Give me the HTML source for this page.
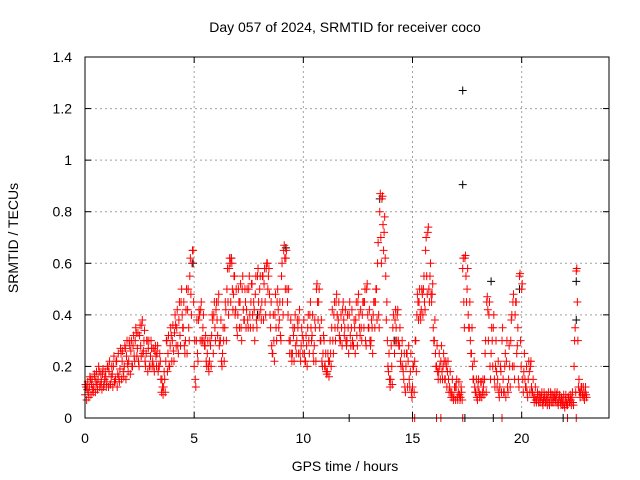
<!DOCTYPE html>
<html><head><meta charset="utf-8"><style>
body{margin:0;background:#fff}
svg{display:block;font-family:"Liberation Sans",sans-serif;font-size:14px}
</style></head><body>
<svg id="chart" width="640" height="480" viewBox="0 0 640 480">
<rect width="640" height="480" fill="#fff"/>
<text x="345" y="32" text-anchor="middle">Day 057 of 2024, SRMTID for receiver coco</text>
<text x="345" y="471" text-anchor="middle">GPS time / hours</text>
<text transform="translate(18,238) rotate(-90)" text-anchor="middle">SRMTID / TECUs</text>
<g id="grid"></g>
<g id="marks"></g>
<rect x="85" y="57" width="524" height="361" fill="none" stroke="#000" stroke-width="1"/>
<g id="ticks"></g>
</svg>
<script>
const xTicks=[0,5,10,15,20];
const yTicks=[0,0.2,0.4,0.6,0.8,1,1.2,1.4];
const yTickLabels=["0","0.2","0.4","0.6","0.8","1","1.2","1.4"];
const redA=[.09,.11,.12,.13,.12,.14,.15,.13,.17,.15,
.14,.18,.16,.2,.15,.17,.19,.22,.2,.24,
.22,.26,.28,.3,.27,.32,.36,.3,.25,.27,
.24,.22,.26,.25,.2,.1,.12,.22,.25,.28,
.3,.33,.35,.38,.45,.35,.3,.42,.55,.6,
.2,.3,.38,.42,.35,.28,.25,.22,.32,.4,
.42,.45,.3,.25,.35,.5,.58,.62,.48,.42,
.4,.45,.5,.38,.42,.5,.45,.35,.48,.55,
.5,.45,.52,.58,.55,.35,.25,.4,.45,.38,
.55,.65,.62,.4,.3,.25,.35,.3,.38,.28,
.3,.22,.35,.4,.32,.28,.5,.45,.3,.25,
.2,.18,.22,.35,.4,.45,.38,.3,.42,.35,
.3,.4,.35,.28,.38,.45,.32,.4,.45,.5,
.35,.3,.4,.45,.6,.8,.85,.72,.38,.18,
.15,.35,.38,.4,.28,.25,.15,.2,.22,.18,
.12,.22,.4,.45,.42,.5,.65,.72,.55,.48,
.3,.2,.18,.22,.2,.15,.18,.12,.1,.08,
.12,.1,.08,.58,.62,.5,.35,.25,.15,.1,
.12,.09,.1,.15,.45,.4,.25,.35,.2,.15,
.12,.3,.1,.22,.15,.3,.45,.4,.28,.55,
.5,.18,.12,.15,.2,.1,.08,.07,.06,.08,
.07,.06,.08,.07,.06,.08,.09,.07,.05,.06,
.07,.05,.06,.08,.2,.57,.12,.1,.09,.1];
const redB=[.12,.1,.15,.11,.16,.13,.18,.14,.12,.16,
.2,.13,.17,.14,.22,.16,.25,.18,.27,.21,
.28,.2,.24,.33,.22,.28,.25,.22,.3,.2,
.27,.2,.24,.18,.22,.12,.15,.3,.2,.32,
.26,.36,.28,.32,.4,.28,.5,.35,.48,.65,
.15,.25,.4,.3,.3,.22,.2,.28,.38,.35,
.38,.28,.22,.3,.42,.45,.6,.5,.55,.35,
.45,.35,.42,.45,.38,.4,.52,.42,.38,.45,
.42,.55,.45,.6,.48,.28,.3,.35,.42,.32,
.45,.62,.5,.3,.25,.32,.28,.35,.25,.32,
.25,.28,.3,.35,.25,.35,.45,.35,.22,.3,
.18,.22,.25,.3,.35,.4,.32,.35,.38,.3,
.35,.32,.3,.35,.32,.4,.35,.45,.3,.4,
.3,.35,.45,.5,.4,.7,.75,.62,.3,.15,
.2,.3,.35,.3,.22,.2,.12,.25,.15,.1,
.2,.3,.45,.4,.48,.45,.55,.5,.48,.35,
.25,.18,.2,.18,.22,.2,.15,.1,.08,.12,
.08,.09,.1,.45,.55,.4,.3,.2,.12,.08,
.1,.14,.12,.3,.42,.2,.3,.15,.18,.1,
.18,.15,.25,.12,.2,.4,.2,.45,.15,.3,
.15,.15,.1,.18,.12,.08,.07,.09,.08,.06,
.08,.07,.06,.09,.08,.07,.06,.08,.07,.05,
.06,.08,.07,.06,.35,.45,.1,.12,.08,.09];
const redC=[.13,.14,.16,.15,.17,.18,.2,.17,.19,.18,
.2,.22,.2,.24,.22,.25,.27,.26,.28,.3,
.3,.3,.32,.35,.33,.36,.38,.34,.3,.3,
.3,.27,.28,.28,.25,.15,.18,.3,.32,.35,
.36,.4,.42,.45,.5,.45,.42,.5,.62,.65,
.3,.38,.42,.45,.4,.32,.3,.3,.4,.45,
.45,.48,.38,.35,.45,.58,.62,.6,.55,.5,
.5,.52,.55,.5,.5,.55,.52,.45,.55,.58,
.55,.55,.58,.6,.58,.45,.4,.48,.5,.45,
.6,.67,.65,.5,.38,.35,.4,.38,.42,.35,
.38,.32,.4,.45,.4,.38,.52,.5,.38,.32,
.25,.25,.3,.42,.45,.48,.45,.4,.45,.42,
.4,.45,.42,.38,.45,.48,.42,.45,.5,.52,
.42,.38,.45,.5,.68,.87,.86,.78,.45,.25,
.28,.4,.42,.42,.35,.3,.25,.25,.28,.25,
.2,.3,.48,.5,.5,.55,.7,.74,.6,.52,
.38,.28,.25,.28,.25,.22,.22,.18,.15,.12,
.15,.14,.12,.62,.63,.58,.45,.35,.22,.15,
.15,.14,.15,.25,.47,.45,.35,.4,.3,.22,
.2,.35,.2,.3,.28,.38,.48,.45,.35,.56,
.52,.25,.2,.22,.22,.15,.12,.1,.09,.1,
.1,.09,.1,.1,.09,.1,.1,.09,.08,.09,
.09,.08,.09,.1,.3,.58,.15,.12,.12,.12];
const redD=[.07,.08,.09,.1,.1,.11,.12,.11,.13,.12,
.12,.13,.12,.14,.12,.14,.15,.16,.15,.18,
.17,.2,.22,.24,.2,.24,.26,.2,.18,.2,
.2,.18,.2,.2,.15,.09,.1,.18,.2,.22,
.22,.28,.25,.28,.35,.25,.25,.3,.4,.45,
.12,.22,.3,.3,.28,.2,.18,.2,.25,.3,
.32,.3,.2,.22,.3,.4,.45,.42,.4,.32,
.35,.3,.38,.35,.35,.35,.4,.3,.35,.4,
.38,.38,.4,.5,.4,.25,.22,.3,.35,.3,
.4,.5,.45,.25,.22,.22,.25,.25,.22,.25,
.22,.2,.25,.3,.22,.22,.38,.3,.2,.2,
.17,.16,.2,.25,.3,.35,.3,.28,.32,.28,
.25,.28,.28,.25,.28,.35,.3,.35,.28,.35,
.28,.25,.35,.38,.35,.6,.65,.55,.2,.12,
.13,.25,.3,.28,.2,.18,.1,.12,.12,.08,
.1,.18,.38,.38,.4,.42,.48,.45,.45,.3,
.2,.15,.15,.15,.15,.12,.1,.08,.07,.07,
.07,.07,.07,.35,.45,.35,.25,.15,.1,.07,
.08,.08,.09,.1,.3,.15,.2,.12,.12,.08,
.1,.1,.08,.1,.12,.2,.15,.25,.12,.2,
.1,.12,.08,.1,.1,.06,.06,.06,.06,.05,
.06,.05,.05,.06,.06,.06,.05,.06,.05,.04,
.05,.06,.05,.05,.1,.3,.08,.09,.07,.08];
const blackTimes=[17.3,17.3,22.5,22.5,13.5,6.7,18.6,19.9,9.2,4.95,0.05,12.1,17.4,18.7,21.9,22.1,14.2,7.9];
const blackValues=[1.27,0.905,0.38,0.53,0.85,0.62,0.53,0.5,0.66,0.6,0.12,0,0,0,0,0,0.3,0.4];
const redZeroTimes=[15.0,15.1,16.1,16.3,17.3,19.1,22.1,22.5];
const step=0.1;
const X0=85,X1=609,Y0=418,Y1=57,XMAX=24,YMAX=1.4;
function sx(t){return X0+(X1-X0)*t/XMAX;}
function sy(v){return Y0-(Y0-Y1)*v/YMAX;}
const NS="http://www.w3.org/2000/svg";
const grid=document.getElementById('grid'),ticks=document.getElementById('ticks'),marks=document.getElementById('marks');
function line(p,x1,y1,x2,y2,st,dash){const l=document.createElementNS(NS,'line');l.setAttribute('x1',x1);l.setAttribute('y1',y1);l.setAttribute('x2',x2);l.setAttribute('y2',y2);l.setAttribute('stroke',st);if(dash)l.setAttribute('stroke-dasharray',dash);p.appendChild(l);return l;}
function txt(p,x,y,s,a){const t=document.createElementNS(NS,'text');t.setAttribute('x',x);t.setAttribute('y',y);t.setAttribute('text-anchor',a);t.textContent=s;p.appendChild(t);return t;}
xTicks.forEach(t=>{const x=sx(t);
 if(t>0){const g=line(grid,x,Y0,x,Y1,'#a0a0a0','2,3');
 
 }
 line(ticks,x,Y0,x,Y0-6,'#000');line(ticks,x,Y1,x,Y1+6,'#000');
 const l=txt(ticks,x,443,String(t),'middle');
 
 });
yTicks.forEach((v,i)=>{const y=sy(v);
 if(v>0&&v<YMAX){const g=line(grid,X0,y,X1,y,'#a0a0a0','2,3');
 
 }
 line(ticks,X0,y,X0+6,y,'#000');line(ticks,X1,y,X1-6,y,'#000');
 const l=txt(ticks,72,y+5,yTickLabels[i],'end');
 
 });
function plus(t,v,c){const x=sx(t),y=sy(v);const p=document.createElementNS(NS,'path');
 p.setAttribute('d',`M${x-4},${y}h8M${x},${y-4}v8`);p.setAttribute('stroke',c);p.setAttribute('stroke-width','1');
 
 
 marks.appendChild(p);}
blackTimes.forEach((t,i)=>plus(t,blackValues[i],'#000'));
redA.forEach((v,i)=>plus(i*step,v,'#f00'));
redB.forEach((v,i)=>plus(i*step+step/2,v,'#f00'));
redC.forEach((v,i)=>plus(i*step+step/4,v,'#f00'));
redD.forEach((v,i)=>plus(i*step+3*step/4,v,'#f00'));
redZeroTimes.forEach(t=>plus(t,0,'#f00'));
</script>
</body></html>
